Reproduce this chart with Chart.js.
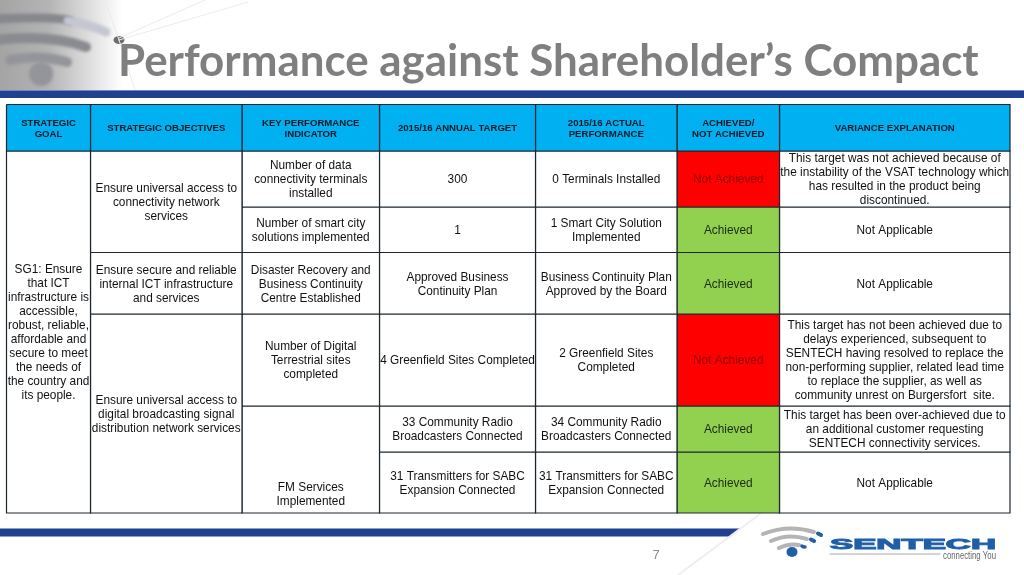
<!DOCTYPE html>
<html><head><meta charset="utf-8">
<style>html,body{margin:0;padding:0;background:#fff;overflow:hidden}canvas{display:block}</style>
<script src="https://cdn.jsdelivr.net/npm/chart.js@4/dist/chart.umd.min.js"></script>
</head><body><canvas id="c" width="1024" height="575"></canvas>
<script>
const titleText = "Performance against Shareholder’s Compact";
const pageNumber = "7";
const colEdges = [6.5, 90.5, 242, 379.5, 535.5, 677, 779.5, 1010];
const rowEdges = [104.5, 151, 207, 252.5, 314, 406, 452, 513];
const headers = [["STRATEGIC","GOAL"],["STRATEGIC OBJECTIVES"],["KEY PERFORMANCE","INDICATOR"],["2015/16 ANNUAL TARGET"],["2015/16 ACTUAL","PERFORMANCE"],["ACHIEVED/","NOT ACHIEVED"],["VARIANCE EXPLANATION"]];
// column, first row, last row (exclusive), lines
const goalCells = [[0,1,7,["SG1: Ensure","that ICT","infrastructure is","accessible,","robust, reliable,","affordable and","secure to meet","the needs of","the country and","its people."]]];
const objectiveCells = [
 [1,1,3,["Ensure universal access to","connectivity network","services"]],
 [1,3,4,["Ensure secure and reliable","internal ICT infrastructure","and services"]],
 [1,4,7,["Ensure universal access to","digital broadcasting signal","distribution network services"]]];
const kpiCells = [
 [2,1,2,["Number of data","connectivity terminals","installed"]],
 [2,2,3,["Number of smart city","solutions implemented"]],
 [2,3,4,["Disaster Recovery and","Business Continuity","Centre Established"]],
 [2,4,5,["Number of Digital","Terrestrial sites","completed"]],
 [2,5,7,["FM Services","Implemented"],"bottom"]];
const targetCells = [
 [3,1,2,["300"]],[3,2,3,["1"]],[3,3,4,["Approved Business","Continuity Plan"]],
 [3,4,5,["4 Greenfield Sites Completed"]],[3,5,6,["33 Community Radio","Broadcasters Connected"]],
 [3,6,7,["31 Transmitters for SABC","Expansion Connected"]]];
const actualCells = [
 [4,1,2,["0 Terminals Installed"]],[4,2,3,["1 Smart City Solution","Implemented"]],
 [4,3,4,["Business Continuity Plan","Approved by the Board"]],[4,4,5,["2 Greenfield Sites","Completed"]],
 [4,5,6,["34 Community Radio","Broadcasters Connected"]],[4,6,7,["31 Transmitters for SABC","Expansion Connected"]]];
const statusRows = ["Not Achieved","Achieved","Achieved","Not Achieved","Achieved","Achieved"];
const varianceCells = [
 [6,1,2,["This target was not achieved because of","the instability of the VSAT technology which","has resulted in the product being","discontinued."]],
 [6,2,3,["Not Applicable"]],[6,3,4,["Not Applicable"]],
 [6,4,5,["This target has not been achieved due to","delays experienced, subsequent to","SENTECH having resolved to replace the","non-performing supplier, related lead time","to replace the supplier, as well as","community unrest on Burgersfort  site."]],
 [6,5,6,["This target has been over-achieved due to","an additional customer requesting","SENTECH connectivity services."]],
 [6,6,7,["Not Applicable"]]];

const FONT='"Liberation Sans",Arial,sans-serif';
const BORDER='#1c2630', HEAD='#00b0f0', RED='#ff0000', GREEN='#92d050', BLUE='#21408f';
const statusCells = statusRows.map((s,i)=>[5,i+1,i+2,[s],null,s==="Achieved"?GREEN:RED,s==="Achieved"?"#1a2a10":"#8c0000"]);
const headerCells = headers.map((h,i)=>[i,0,1,h,null,HEAD,"#0c1a28",true]);
const cells = [...headerCells,...goalCells,...objectiveCells,...kpiCells,...targetCells,...actualCells,...statusCells,...varianceCells];

const datasets = cells.map(c=>{
  const x0=colEdges[c[0]],x1=colEdges[c[0]+1],y0=rowEdges[c[1]],y1=rowEdges[c[2]];
  return {type:'line',data:[{x:x0,y:y0},{x:x1,y:y0},{x:x1,y:y1},{x:x0,y:y1},{x:x0,y:y0}],
    fill:'shape',backgroundColor:c[5]||'#ffffff',borderColor:BORDER,borderWidth:1.2,pointRadius:0,tension:0};
});

const decor = {id:'decor',beforeDatasetsDraw(ch){
  const g=ch.ctx,X=v=>ch.scales.x.getPixelForValue(v),Y=v=>ch.scales.y.getPixelForValue(v);
  g.save();
  // top-left photo fade
  let gr=g.createLinearGradient(0,0,122,0);
  gr.addColorStop(0,'#a4a4a4');gr.addColorStop(.4,'#b4b4b4');gr.addColorStop(.7,'#dadada');gr.addColorStop(1,'#ffffff');
  g.fillStyle=gr;g.fillRect(0,0,125,90);
  g.filter='blur(1.5px)';
  g.lineCap='round';
  g.strokeStyle='#86888e';g.lineWidth=9;g.beginPath();g.moveTo(-5,19);g.quadraticCurveTo(60,16,70,21);g.stroke();
  g.strokeStyle='#c4c6d2';g.lineWidth=9;g.beginPath();g.moveTo(68,21);g.quadraticCurveTo(92,25,106,32);g.stroke();
  g.strokeStyle='#8a8b90';g.lineWidth=10;g.beginPath();g.moveTo(-5,40);g.quadraticCurveTo(50,34,86,47);g.stroke();
  g.strokeStyle='#94959a';g.lineWidth=10;g.beginPath();g.moveTo(10,60);g.quadraticCurveTo(40,54,67,62);g.stroke();
  g.fillStyle='#94959a';g.beginPath();g.arc(41,74,12,0,7);g.fill();
  g.filter='none';
  g.fillStyle='#6c6c70';g.beginPath();g.ellipse(119,40,5.5,4,0,0,7);g.fill();
  g.strokeStyle='#ececec';g.lineWidth=1;
  g.beginPath();g.moveTo(119,38);g.lineTo(205,0);g.moveTo(119,40);g.lineTo(248,2);g.moveTo(119,40);g.lineTo(105,0);g.moveTo(119,40);g.lineTo(135,90);g.stroke();
  // header rule
  g.fillStyle='#6f86c4';g.fillRect(0,Y(90),X(1024),1);
  g.fillStyle=BLUE;g.fillRect(0,Y(91),X(1024),7);
  // title
  g.fillStyle='#7f7f7f';g.font='bold 43.9px Lato,sans-serif';g.textAlign='left';g.textBaseline='alphabetic';
  g.fillText(titleText,X(118),Y(76));
  // footer rule with slanted end
  g.fillStyle=BLUE;g.beginPath();g.moveTo(0,Y(528.5));g.lineTo(X(740),Y(528.5));g.lineTo(X(731),Y(536.5));g.lineTo(0,Y(536.5));g.closePath();g.fill();
  // diagonal light strip
  g.strokeStyle='#eeeeee';g.lineWidth=2;g.beginPath();g.moveTo(X(760),Y(514));g.lineTo(X(678),Y(575));g.stroke();
  // page number
  g.fillStyle='#8a8a8a';g.font='13px "Liberation Sans",sans-serif';g.textAlign='center';g.textBaseline='middle';
  g.fillText(pageNumber,X(656),Y(555));
  // logo
  const arc=(x0,y0,cx,cy,x1,y1,w,col)=>{g.strokeStyle=col;g.lineWidth=w;g.beginPath();g.moveTo(x0,y0);g.quadraticCurveTo(cx,cy,x1,y1);g.stroke();};
  arc(763,534,788,524,814,532,4,'#b4b4b4');arc(818,533.5,819,534,821,535,4,'#1f5fa8');
  arc(771,541,788,533,807,539,4,'#b4b4b4');arc(811,539.5,812,540,814,541,4,'#1f5fa8');
  arc(779,548,789,543,799,545,4,'#b4b4b4');arc(802,546,803,547,805,547,3.5,'#1f5fa8');
  g.fillStyle='#1f5fa8';g.beginPath();g.ellipse(792,552,5.5,5,0,0,7);g.fill();
  g.font='900 15px "Liberation Sans",sans-serif';g.textAlign='left';g.textBaseline='alphabetic';
  const w=g.measureText('SENTECH').width;
  g.save();g.translate(830,548.5);g.scale(166/w,1);g.lineWidth=1;g.strokeStyle='#1f5fa8';g.strokeText('SENTECH',0,0);g.fillText('SENTECH',0,0);g.restore();
  g.strokeStyle='#a8a8a8';g.lineWidth=1;g.beginPath();g.moveTo(830,554);g.lineTo(940,554);g.stroke();
  g.fillStyle='#666';g.font='11px "Liberation Sans",sans-serif';const w2=g.measureText('connecting You').width;
  g.save();g.translate(943,558.5);g.scale(53/w2,1);g.fillText('connecting You',0,0);g.restore();
  g.restore();
},
afterDatasetsDraw(ch){
  const g=ch.ctx,X=v=>ch.scales.x.getPixelForValue(v),Y=v=>ch.scales.y.getPixelForValue(v);
  g.save();g.textAlign='center';g.textBaseline='middle';
  cells.forEach(c=>{
    const bold=c[7],lh=bold?11:14,cx=(X(colEdges[c[0]])+X(colEdges[c[0]+1]))/2;
    const y0=Y(rowEdges[c[1]]),y1=Y(rowEdges[c[2]]),n=c[3].length;
    let top=(y0+y1)/2-(n-1)*lh/2+1; if(c[4]==="bottom") top=y1-25.5;
    g.font=(bold?'bold 9.6px ':'11.85px ')+FONT;g.fillStyle=c[6]||'#111111';
    c[3].forEach((t,i)=>g.fillText(t,cx,top+i*lh));
  });
  g.restore();
}};

new Chart(document.getElementById('c'),{type:'line',data:{datasets},plugins:[decor],
 options:{responsive:false,animation:false,layout:{padding:0},
  plugins:{legend:{display:false},tooltip:{enabled:false},title:{display:false}},
  scales:{x:{type:'linear',min:0,max:1024,display:false},y:{type:'linear',min:0,max:575,reverse:true,display:false}},
  clip:false}});
</script></body></html>
